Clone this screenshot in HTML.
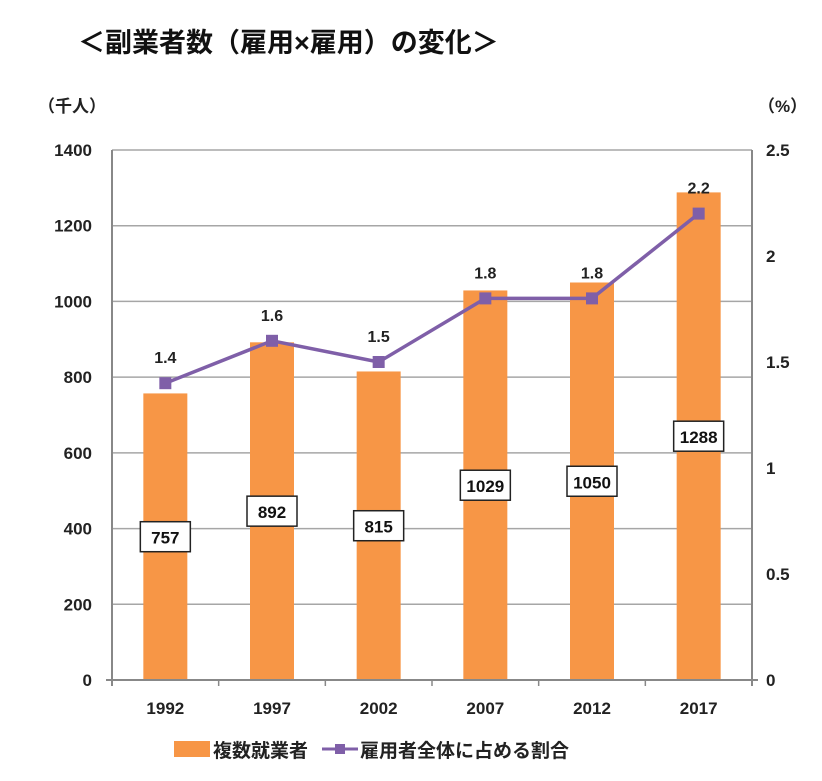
<!DOCTYPE html>
<html><head><meta charset="utf-8"><style>
body{margin:0;background:#fff;}
svg{display:block;font-family:"Liberation Sans","Noto Sans CJK JP",sans-serif;}
</style></head><body>
<svg id="c" width="822" height="781" xmlns="http://www.w3.org/2000/svg">
<text x="78" y="52" font-size="27" font-weight="bold" fill="#111">＜副業者数（雇用×雇用）の変化＞</text>
<text x="38" y="112" font-size="17" font-weight="bold" fill="#222">（千人）</text>
<text x="758" y="112" font-size="17" font-weight="bold" fill="#222">（%）</text>
<g id="grid"></g><g id="bars"></g><g id="line"></g><g id="labels"></g><g id="axes"></g>
<g>
<rect x="174" y="741" width="36" height="16" fill="#f79646"/>
<text x="213" y="757" font-size="19" font-weight="bold" fill="#222">複数就業者</text>
<line x1="322" y1="749" x2="358" y2="749" stroke="#7f5fa8" stroke-width="3"/>
<rect x="335" y="744" width="10" height="10" fill="#7f5fa8"/>
<text x="360" y="757" font-size="19" font-weight="bold" fill="#222">雇用者全体に占める割合</text>
</g>
</svg>
<script>
const categories=["1992","1997","2002","2007","2012","2017"];
const workers=[757,892,815,1029,1050,1288];
const ratio=[1.4,1.6,1.5,1.8,1.8,2.2];
const leftTicks=[0,200,400,600,800,1000,1200,1400];
const rightTicks=["0","0.5","1","1.5","2","2.5"];
const L=112,R=752,T=150,B=680;
const NS="http://www.w3.org/2000/svg";
const yL=v=>B-(v/1400)*(B-T);
const yR=v=>B-(v/2.5)*(B-T);
const bw=(R-L)/categories.length;
const xC=i=>L+bw*(i+0.5);
function mk(p,tag,a,txt){const e=document.createElementNS(NS,tag);for(const k in a)e.setAttribute(k,a[k]);if(txt!==undefined)e.textContent=txt;document.getElementById(p).appendChild(e);return e;}
leftTicks.forEach(v=>{
 const g=mk('grid','line',{x1:L,x2:R,y1:yL(v),y2:yL(v),stroke:'#a6a6a6','stroke-width':1.5});
 
 
 const t=mk('axes','text',{x:L-20,y:yL(v)+6,'font-size':17,'font-weight':600,'text-anchor':'end',fill:'#222'},String(v));
 
 
});
rightTicks.forEach(s=>{
 const t=mk('axes','text',{x:R+14,y:yR(parseFloat(s))+6,'font-size':17,'font-weight':600,fill:'#222'},s);
 
 
});
categories.forEach((c,i)=>{
 const x=xC(i),w=44;
 const b=mk('bars','rect',{x:x-w/2,y:yL(workers[i]),width:w,height:B-yL(workers[i]),fill:'#f79646'});
 
 
 const t=mk('axes','text',{x:x,y:B+34,'font-size':17,'font-weight':600,'text-anchor':'middle',fill:'#222'},c);
 
 
 const tk=mk('axes','line',{x1:L+bw*i,x2:L+bw*i,y1:B,y2:B+6,stroke:'#888','stroke-width':1.5});
 
 
 const my=yL(workers[i]/2);
 const bx=mk('labels','rect',{x:x-25,y:my-15,width:50,height:30,fill:'#fff',stroke:'#222','stroke-width':1.5});
 
 
 const bt=mk('labels','text',{x:x,y:my+7,'font-size':17,'font-weight':600,'text-anchor':'middle',fill:'#111'},String(workers[i]));
 
 
 const lt=mk('labels','text',{x:x,y:yR(ratio[i])-20,'font-size':16,'font-weight':600,'text-anchor':'middle',fill:'#222'},ratio[i].toFixed(1));
 
 
});
const pts=ratio.map((v,i)=>xC(i)+','+yR(v)).join(' ');
const pl=mk('line','polyline',{points:pts,fill:'none',stroke:'#7f5fa8','stroke-width':3.5});


ratio.forEach((v,i)=>{
 const m=mk('line','rect',{x:xC(i)-6,y:yR(v)-6,width:12,height:12,fill:'#7f5fa8'});
 
 
});
[[L,T,L,B+6],[R,T,R,B+6],[L-6,B,R+6,B]].forEach((a,k)=>{
 const e=mk('axes','line',{x1:a[0],y1:a[1],x2:a[2],y2:a[3],stroke:'#888','stroke-width':2});
 
 
});
</script>
</body></html>
